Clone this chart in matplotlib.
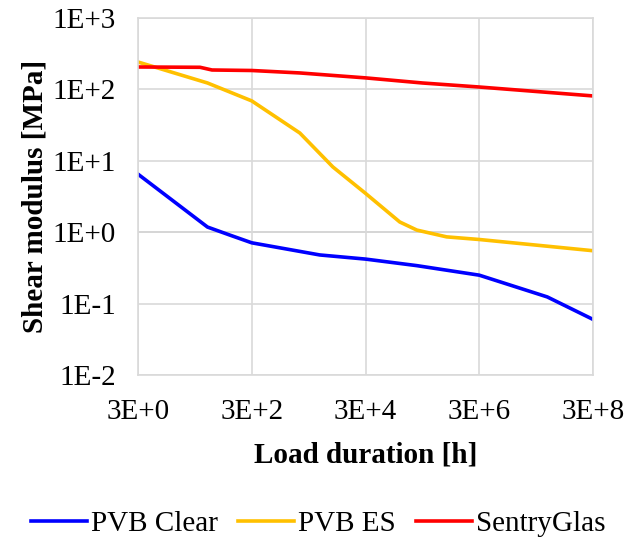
import matplotlib
matplotlib.use("Agg")
import matplotlib.pyplot as plt
from matplotlib.ticker import FixedLocator, FixedFormatter, NullLocator

plt.rcParams['font.family'] = ['Liberation Serif', 'DejaVu Serif']

# load duration [h] and shear modulus [MPa]
clear_t = [3, 50, 124, 300, 4700, 3e4, 2.4e5, 3e6, 4.7e7, 3e8]
clear_g = [6.5, 1.18, 0.91, 0.71, 0.48, 0.42, 0.34, 0.25, 0.124, 0.06]

es_t = [3, 50, 300, 2100, 8000, 3e4, 1.2e5, 2.4e5, 8e5, 3e6, 3e8]
es_g = [242, 123, 69, 24.5, 8.2, 3.5, 1.39, 1.07, 0.86, 0.79, 0.55]

sg_t = [3, 37, 60, 300, 2100, 3e4, 3e5, 3e6, 3e8]
sg_g = [206, 204, 187, 184, 170, 145, 123, 108, 81]

xticks = [3, 3e2, 3e4, 3e6, 3e8]
xlabels = ['3E+0', '3E+2', '3E+4', '3E+6', '3E+8']
yticks = [1e-2, 1e-1, 1e0, 1e1, 1e2, 1e3]
ylabels = ['1E-2', '1E-1', '1E+0', '1E+1', '1E+2', '1E+3']

fig = plt.figure(figsize=(6.29, 5.44), dpi=100)
ax = fig.add_axes([0.2194, 0.3107, 0.7234, 0.6562])

ax.plot(clear_t, clear_g, color='#0000ff', lw=2.6, label='PVB Clear')
ax.plot(es_t, es_g, color='#ffc000', lw=2.6, label='PVB ES')
ax.plot(sg_t, sg_g, color='#ff0000', lw=2.6, label='SentryGlas')

ax.set_xscale('log')
ax.set_yscale('log')
ax.set_xlim(3, 3e8)
ax.set_ylim(1e-2, 1e3)
ax.xaxis.set_major_locator(FixedLocator(xticks))
ax.xaxis.set_major_formatter(FixedFormatter(xlabels))
ax.xaxis.set_minor_locator(NullLocator())
ax.yaxis.set_major_locator(FixedLocator(yticks))
ax.yaxis.set_major_formatter(FixedFormatter(ylabels))
ax.yaxis.set_minor_locator(NullLocator())
ax.tick_params(length=0, labelsize=21)
ax.tick_params(axis='x', pad=17)
ax.tick_params(axis='y', pad=16)

ax.grid(True, color='#d9d9d9', lw=1.2)
ax.set_axisbelow(True)
ax.axhline(1, color='#bfbfbf', lw=1.2, zorder=0.5)
for s in ax.spines.values():
    s.set_color('#d9d9d9')
    s.set_linewidth(1.2)

ax.set_xlabel('Load duration [h]', fontsize=21, fontweight='bold', labelpad=12)
ax.set_ylabel('Shear modulus [MPa]', fontsize=21, fontweight='bold', labelpad=3)

fig.legend(loc='center', bbox_to_anchor=(0.506, 0.037), ncol=3, frameon=False,
           fontsize=21, handlelength=1.9, columnspacing=0.7, handletextpad=0.15)

fig.savefig('out.png', dpi=100)
